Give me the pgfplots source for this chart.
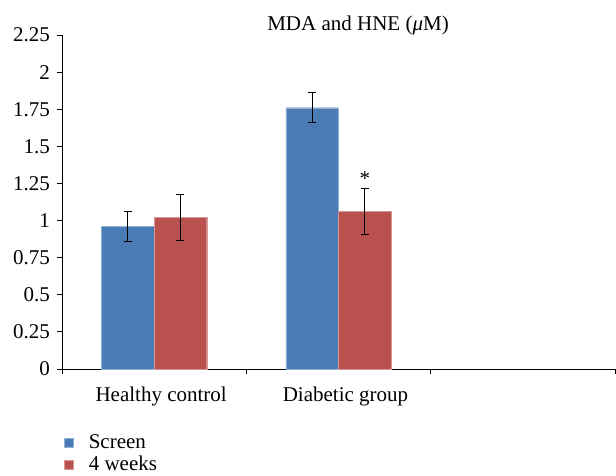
\documentclass[border=0pt]{standalone}
\usepackage{pgfplots}
\pgfplotsset{compat=1.18}
\usepackage{fontspec}
\setmainfont{Liberation Serif}
\definecolor{cblue}{HTML}{4B7BB4}
\definecolor{cred}{HTML}{B9514E}
\begin{document}
\fontsize{21}{25}\selectfont
\begin{tikzpicture}
\begin{axis}[
 scale only axis, width=553pt, height=334pt,
 xmin=-0.5, xmax=2.5, ymin=0, ymax=2.25,
 axis x line*=bottom, axis y line*=left,
 axis line style={black, line width=0.9pt, -},
 ybar=0pt, bar width=0.285,
 xtick={-0.5,0.5,1.5,2.5}, xticklabels={},
 extra x ticks={0,1}, extra x tick labels={Healthy control, Diabetic group},
 extra x tick style={major tick length=0pt, tick label style={xshift=7pt, yshift=-11pt}},
 ytick={0,0.25,...,2.25},
 yticklabels={0,0.25,0.5,0.75,1,1.25,1.5,1.75,2,2.25},
 tick align=outside, major tick length=5pt,
 tick style={black, line width=0.9pt},
 every tick label/.append style={font=\fontsize{21}{25}\selectfont, text=black},
 clip=false,
 legend style={at={(0.004,-0.19)}, anchor=north west, draw=none, fill=none, inner sep=0pt, row sep=0pt, font=\fontsize{21}{25}\selectfont, nodes={inner ysep=2pt}},
 legend cell align=left,
 legend image code/.code={\fill[#1] (0pt,-4.5pt) rectangle (9pt,4.5pt); \path (22pt,0pt);},
 error bars/error bar style={black, line width=1.2pt},
 error bars/error mark options={rotate=90, mark size=4pt, line width=1.2pt, black},
]
\addplot[fill=cblue, draw=cblue!60!white, error bars/.cd, y dir=both, y explicit]
  coordinates {(0,0.96) +- (0,0.10) (1,1.76) +- (0,0.10)};
\addplot[fill=cred, draw=cred!60!white, error bars/.cd, y dir=both, y explicit]
  coordinates {(0,1.02) +- (0,0.155) (1,1.06) +- (0,0.155)};
\legend{Screen, 4 weeks}
\node[anchor=base] at (axis cs:1.1425,1.236) {*};
\node[anchor=base] at (axis cs:1.106,2.278) {MDA and HNE (\textit{μ}M)};
\coordinate (ll) at (rel axis cs:0,0);
\coordinate (ur) at (rel axis cs:1,1);
\end{axis}
\pgfresetboundingbox
\useasboundingbox ([shift={(-62pt,-107pt)}]ll) rectangle ([shift={(1pt,35pt)}]ur);
\end{tikzpicture}
\end{document}
